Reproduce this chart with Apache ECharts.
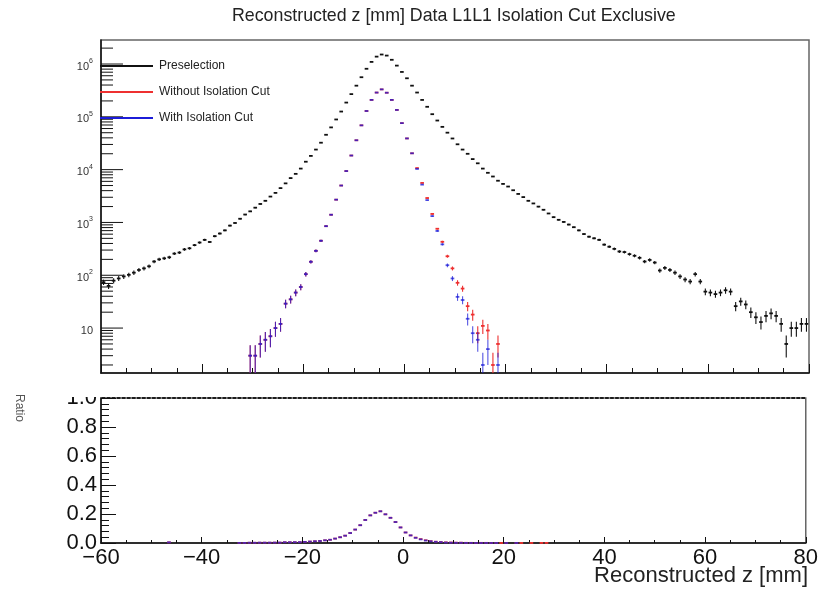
<!DOCTYPE html>
<html><head><meta charset="utf-8">
<script src="https://cdn.jsdelivr.net/npm/echarts@6/dist/echarts.min.js"></script>
<style>html,body{margin:0;padding:0;background:#fff}#c{width:821px;height:592px}</style>
</head><body><div id="c"></div>
<script>
// ---- binning: 140 bins of 1 mm from -60 to 80 ----
const binLow = -60, binWidth = 1, nBins = 140;
const binCenters = Array.from({length: nBins}, (_, i) => binLow + (i + 0.5) * binWidth);

// ---- Preselection counts (z = -59.5 ... 79.5) ----
const preselection = [
  74, 63, 79, 87, 95, 102, 112, 126, 135, 148,
  182, 200, 209, 219, 257, 269, 309, 324, 372, 417,
  468, 427, 550, 617, 708, 871, 977, 1175, 1413, 1622,
  1905, 2239, 2570, 3090, 3631, 4467, 5495, 6918, 8318, 10470,
  14125, 18197, 23988, 32359, 45709, 63096, 89125, 125893, 186209, 269153,
  389045, 562341, 812831, 1096478, 1380384, 1513561, 1445440, 1202264, 933254, 707946,
  537032, 389045, 288403, 208930, 154882, 112202, 85114, 64565, 50119, 38905,
  30200, 23988, 19953, 15849, 13183, 10471, 8710, 7413, 6166, 5370,
  4786, 4074, 3467, 3020, 2570, 2291, 1995, 1738, 1479, 1259,
  1122, 1023, 912, 813, 708, 603, 537, 501, 468, 380,
  347, 316, 282, 275, 251, 234, 214, 182, 195, 174,
  123, 138, 126, 112, 95, 83, 76, 105, 76, 49,
  47, 44, 47, 52, 49, 26, 32, 28, 20, 16,
  13, 17, 19, 17, 12, 5, 10, 10, 12, 12
];

// ---- Without Isolation Cut ----
const withoutIso = [
  0, 0, 0, 0, 0, 0, 0, 0, 0, 0,
  0, 0, 0, 1, 0, 0, 0, 0, 0, 0,
  0, 0, 0, 0, 0, 0, 0, 1, 1, 3,
  3, 5, 6, 7, 10, 12, 29, 35, 47, 60,
  105, 180, 290, 450, 850, 1400, 2700, 5000, 9400, 18500,
  36000, 69000, 129000, 209000, 288000, 331000, 286000, 209000, 135000, 76000,
  39000, 20400, 10700, 5600, 2900, 1450, 760, 430, 229, 135,
  72, 56, 26, 18, 8, 11, 9, 2, 5, 1,
  1, 0, 1, 1, 0, 1, 0, 1, 1, 0,
  0, 0, 0, 0, 0, 0, 0, 0, 0, 0,
  0, 0, 0, 0, 0, 0, 0, 0, 0, 0,
  0, 0, 0, 0, 0, 0, 0, 0, 0, 0,
  0, 0, 0, 0, 0, 0, 0, 0, 0, 0,
  0, 0, 0, 0, 0, 0, 0, 0, 0, 0
];

// ---- With Isolation Cut ----
const withIso = [
  0, 0, 0, 0, 0, 0, 0, 0, 0, 0,
  0, 0, 0, 1, 0, 0, 0, 0, 0, 0,
  0, 0, 0, 0, 0, 0, 0, 1, 1, 3,
  3, 5, 6, 7, 10, 12, 29, 35, 47, 60,
  105, 180, 290, 450, 850, 1400, 2700, 5000, 9400, 18500,
  36000, 69000, 129000, 209000, 288000, 331000, 286000, 209000, 135000, 76000,
  39000, 20400, 10300, 5200, 2650, 1320, 690, 385, 155, 87,
  39, 34, 15, 8, 6, 2, 4, 1, 2, 0,
  1, 0, 1, 0, 0, 0, 0, 0, 0, 0,
  0, 0, 0, 0, 0, 0, 0, 0, 0, 0,
  0, 0, 0, 0, 0, 0, 0, 0, 0, 0,
  0, 0, 0, 0, 0, 0, 0, 0, 0, 0,
  0, 0, 0, 0, 0, 0, 0, 0, 0, 0,
  0, 0, 0, 0, 0, 0, 0, 0, 0, 0
];

const seriesNames = ['Preselection', 'Without Isolation Cut', 'With Isolation Cut'];
const titleText = 'Reconstructed z [mm] Data L1L1 Isolation Cut Exclusive';
const xTitle = 'Reconstructed z [mm]';
const ratioTitle = 'Ratio';

const FONT = '"Liberation Sans", Arial, Helvetica, sans-serif';
const Y_MIN = 1.41, Y_MAX = 2.85e6;
const C_BLACK = '#111111', C_RED = '#ee3030', C_BLUE = '#1c1cd8';

// tick values for the log axis (major at decades, minor at 2..9)
const logTicks = [];
for (let k = 0; k <= 6; k++) for (let m = 1; m <= 9; m++) {
  const v = m * Math.pow(10, k);
  if (v >= Y_MIN && v <= Y_MAX) logTicks.push([v, m === 1 ? 1 : 0]);
}

function countItems(vals) {
  return binCenters.map((z, i) => vals[i] > 0 ? [z, vals[i], Math.sqrt(vals[i])] : [z, null, 0]);
}
// ratio with binomial-style (negligible) errors: markers only
function ratioItems(num, den) {
  return binCenters.map((z, i) => {
    const n = num[i], d = den[i];
    if (!(n > 0) || !(d > 0)) return [z, null, 0];
    return [z, n / d, 0];
  });
}

function errRender(color, isLog, opacity) {
  return function (params, api) {
    const z = api.value(0), v = api.value(1), e = api.value(2);
    if (v == null || isNaN(v)) return;
    if (isLog && v < Y_MIN) return;
    const cs = params.coordSys;
    const top = cs.y, bottom = cs.y + cs.height;
    const p = api.coord([z, v]);
    const pl = api.coord([z - 0.36, v]), pr = api.coord([z + 0.36, v]);
    const children = [
      {type: 'line', shape: {x1: pl[0], y1: p[1], x2: pr[0], y2: p[1]}, style: {stroke: color, lineWidth: 1.8, opacity: opacity}}
    ];
    if (e > 0) {
      let yTop = api.coord([z, v + e])[1];
      let yBot;
      if (isLog) yBot = (v - e > Y_MIN) ? api.coord([z, v - e])[1] : bottom;
      else yBot = api.coord([z, Math.max(v - e, 0)])[1];
      yTop = Math.max(yTop, top); yBot = Math.min(yBot, bottom);
      children.push({type: 'line', shape: {x1: p[0], y1: yTop, x2: p[0], y2: yBot}, style: {stroke: color, lineWidth: 1.1, opacity: opacity}});
    }
    return {type: 'group', children: children};
  };
}

function tickRender(params, api) {
  const v = api.value(0), major = api.value(1);
  const cs = params.coordSys;
  const p = api.coord([-60, v]);
  const len = major ? 22 : 12;
  return {type: 'line', shape: {x1: cs.x, y1: p[1], x2: cs.x + len, y2: p[1]}, style: {stroke: '#111', lineWidth: 1}};
}

const chart = echarts.init(document.getElementById('c'), null, {renderer: 'canvas'});
chart.setOption({
  backgroundColor: '#ffffff',
  animation: false,
  textStyle: {fontFamily: FONT},
  title: [
    {text: titleText, left: 232, top: 7, padding: 0,
     textStyle: {fontSize: 17.8, fontWeight: 'normal', color: '#222', fontFamily: FONT}},
    {text: xTitle, right: 13, top: 565, padding: 0,
     textStyle: {fontSize: 22, fontWeight: 'normal', color: '#222', fontFamily: FONT}}
  ],
  legend: {
    left: 95, top: 54, orient: 'vertical', itemWidth: 53, itemHeight: 2, itemGap: 12,
    selectedMode: false,
    textStyle: {fontSize: 12, color: '#222', fontFamily: FONT, lineHeight: 14, padding: [0, 0, 0, 1]},
    data: seriesNames.map(n => ({name: n, icon: 'rect'}))
  },
  grid: [
    {left: 101, right: 12, top: 40, height: 333, show: true, borderColor: '#666', borderWidth: 1.5, backgroundColor: 'transparent'},
    {left: 101, right: 12, top: 398, height: 145, show: true, borderColor: '#666', borderWidth: 1.5, backgroundColor: 'transparent'}
  ],
  xAxis: [
    {gridIndex: 0, type: 'value', min: -60, max: 80, interval: 20,
     axisLine: {show: true, onZero: false, lineStyle: {color: '#111', width: 1.5}},
     axisTick: {show: true, inside: true, length: 9, lineStyle: {color: '#111'}},
     minorTick: {show: true, splitNumber: 4, length: 5, lineStyle: {color: '#111'}},
     axisLabel: {show: false}, splitLine: {show: false}},
    {gridIndex: 1, type: 'value', min: -60, max: 80, interval: 20,
     axisLine: {show: true, onZero: false, lineStyle: {color: '#111', width: 1.5}},
     axisTick: {show: true, inside: true, length: 6, lineStyle: {color: '#111'}},
     minorTick: {show: true, splitNumber: 4, length: 3, lineStyle: {color: '#111'}},
     axisLabel: {show: true, fontSize: 22, color: '#111', margin: 4, fontFamily: FONT,
       formatter: v => v < 0 ? '\u2212' + Math.abs(v) : String(v)},
     splitLine: {show: false}}
  ],
  yAxis: [
    {gridIndex: 0, type: 'log', logBase: 10, min: Y_MIN, max: Y_MAX,
     axisLine: {show: true, onZero: false, lineStyle: {color: '#111', width: 1.5}},
     axisTick: {show: false}, splitLine: {show: false},
     axisLabel: {show: true, margin: 8, color: '#333', fontFamily: FONT,
       formatter: function (v) {
         const l = Math.log10(v);
         if (Math.abs(l - Math.round(l)) > 1e-6) return '';
         const k = Math.round(l);
         if (k === 1) return '{n|10}';
         return '{n|10}{s|' + k + '}';
       },
       rich: {n: {fontSize: 11, lineHeight: 13, padding: [5, 0, 0, 0], fontFamily: FONT, color: '#333'},
              s: {fontSize: 7, lineHeight: 8, verticalAlign: 'top', fontFamily: FONT, color: '#333'}}}},
    {gridIndex: 1, type: 'value', min: 0, max: 1, interval: 0.2,
     axisLine: {show: true, onZero: false, lineStyle: {color: '#111', width: 1.5}},
     axisTick: {show: true, inside: true, length: 15, lineStyle: {color: '#111'}},
     minorTick: {show: true, splitNumber: 5, length: 8, lineStyle: {color: '#111'}},
     splitLine: {show: false},
     axisLabel: {show: true, fontSize: 22, color: '#111', margin: 4, fontFamily: FONT,
       formatter: v => v.toFixed(1)}}
  ],
  series: [
    {type: 'custom', name: 'ticks', xAxisIndex: 0, yAxisIndex: 0, silent: true,
     renderItem: tickRender, data: logTicks, encode: {y: 0}},
    {type: 'custom', name: seriesNames[0], xAxisIndex: 0, yAxisIndex: 0, silent: true,
     itemStyle: {color: C_BLACK}, renderItem: errRender(C_BLACK, true, 1),
     data: countItems(preselection), encode: {x: 0, y: 1}},
    {type: 'custom', name: seriesNames[1], xAxisIndex: 0, yAxisIndex: 0, silent: true,
     itemStyle: {color: C_RED}, renderItem: errRender(C_RED, true, 1),
     data: countItems(withoutIso), encode: {x: 0, y: 1}},
    {type: 'custom', name: seriesNames[2], xAxisIndex: 0, yAxisIndex: 0, silent: true,
     itemStyle: {color: C_BLUE}, renderItem: errRender(C_BLUE, true, 0.75),
     data: countItems(withIso), encode: {x: 0, y: 1}},
    {type: 'custom', name: 'r0', xAxisIndex: 1, yAxisIndex: 1, silent: true,
     renderItem: errRender(C_BLACK, false, 1), data: ratioItems(preselection, preselection), encode: {x: 0, y: 1}},
    {type: 'custom', name: 'r1', xAxisIndex: 1, yAxisIndex: 1, silent: true,
     renderItem: errRender(C_RED, false, 1), data: ratioItems(withoutIso, preselection), encode: {x: 0, y: 1}},
    {type: 'custom', name: 'r2', xAxisIndex: 1, yAxisIndex: 1, silent: true,
     renderItem: errRender(C_BLUE, false, 0.75), data: ratioItems(withIso, preselection), encode: {x: 0, y: 1}}
  ],
  graphic: [
    {type: 'rect', z: 100, shape: {x: 40, y: 375, width: 58, height: 22}, style: {fill: '#ffffff'}},
    {type: 'text', z: 101, x: 13, y: 394, rotation: -Math.PI / 2,
     style: {text: ratioTitle, fontSize: 12, fill: '#555', fontFamily: FONT, textVerticalAlign: 'bottom'}}
  ]
});
</script>
</body></html>
